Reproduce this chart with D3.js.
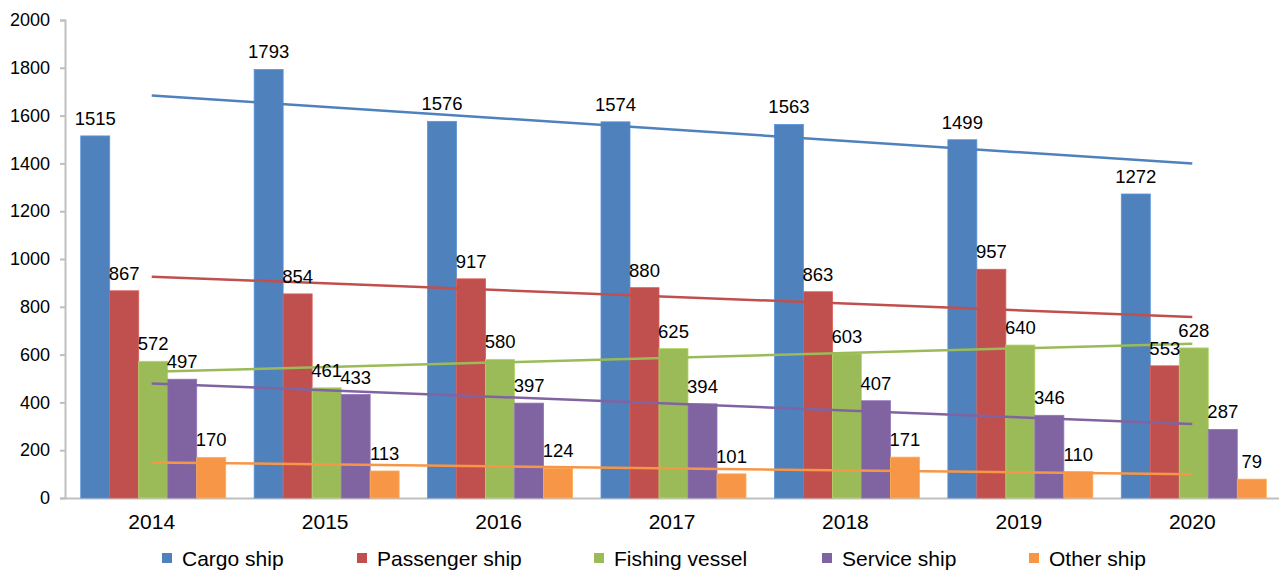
<!DOCTYPE html>
<html>
<head>
<meta charset="utf-8">
<script src="https://cdn.jsdelivr.net/npm/d3@7"></script>
<style>
  body { margin: 0; background: #fff; }
  svg text { font-family: "Liberation Sans", Arial, sans-serif; fill: #000; }
</style>
</head>
<body>
<svg id="mainSVG" width="1279" height="572"></svg>
<script>
var years = ["2014", "2015", "2016", "2017", "2018", "2019", "2020"];
var seriesNames = ["Cargo ship", "Passenger ship", "Fishing vessel", "Service ship", "Other ship"];
var cargo = [1515, 1793, 1576, 1574, 1563, 1499, 1272];
var passenger = [867, 854, 917, 880, 863, 957, 553];
var fishing = [572, 461, 580, 625, 603, 640, 628];
var service = [497, 433, 397, 394, 407, 346, 287];
var other = [170, 113, 124, 101, 171, 110, 79];
var yTicks = [0, 200, 400, 600, 800, 1000, 1200, 1400, 1600, 1800, 2000];
var colors = ["#4f81bd", "#c0504d", "#9bbb59", "#8064a2", "#f79646"];

function drawChart() {
  var allSeries = [cargo, passenger, fishing, service, other];

  var svg = d3.select("#mainSVG");
  var plotLeft = 65, plotRight = 1279, plotTop = 20, plotBottom = 498;

  var x = d3.scaleBand().domain(years).range([plotLeft, plotRight]).padding(0);
  var groupW = 145;
  var xs = d3.scaleBand().domain(d3.range(5)).range([0, groupW]).padding(0);
  var y = d3.scaleLinear().domain([0, 2000]).range([plotBottom, plotTop]);

  // y axis
  var yAxis = d3.axisLeft(y).tickValues(yTicks).tickSize(5).tickPadding(10).tickFormat(d3.format("d"));
  var gy = svg.append("g").attr("transform", "translate(" + plotLeft + ",0)").call(yAxis);
  gy.select(".domain").attr("stroke", "#bfbfbf").attr("stroke-width", 2);
  gy.selectAll(".tick line").attr("stroke", "#bfbfbf").attr("stroke-width", 2);
  gy.selectAll(".tick text").style("font-size", "18px").attr("fill", "#000");

  // x axis
  var xAxis = d3.axisBottom(x).tickSize(0).tickPadding(16);
  var gx = svg.append("g").attr("transform", "translate(0," + plotBottom + ")").call(xAxis);
  gx.select(".domain").attr("stroke", "#bfbfbf").attr("stroke-width", 2);
  gx.selectAll(".tick text").style("font-size", "21px").attr("fill", "#000");

  function barX(s, i) {
    return x(years[i]) + x.bandwidth() / 2 - groupW / 2 + xs(s) + 1.5;
  }

  // bars
  allSeries.forEach(function(vals, s) {
    svg.append("g").selectAll("rect").data(vals).enter().append("rect")
      .attr("x", function(d, i) { return barX(s, i); })
      .attr("y", function(d) { return y(d); })
      .attr("width", xs.bandwidth())
      .attr("height", function(d) { return plotBottom - y(d); })
      .attr("fill", colors[s])
      .attr("stroke", d3.color(colors[s]).brighter(0.4))
      .attr("stroke-width", 0.8);
  });

  // trendlines (least squares fit of each series)
  allSeries.forEach(function(vals, s) {
    var n = vals.length;
    var mx = (n - 1) / 2;
    var my = d3.mean(vals);
    var num = 0, den = 0;
    for (var i = 0; i < n; i++) { num += (i - mx) * (vals[i] - my); den += (i - mx) * (i - mx); }
    var slope = num / den;
    var pts = [0, n - 1].map(function(i) { return [x(years[i]) + x.bandwidth() / 2, y(my + slope * (i - mx))]; });
    svg.append("path")
      .attr("d", d3.line()(pts))
      .attr("stroke", colors[s])
      .attr("stroke-width", 2.5)
      .attr("fill", "none");
  });

  // value labels
  allSeries.forEach(function(vals, s) {
    svg.append("g").selectAll("text").data(vals).enter().append("text")
      .attr("x", function(d, i) { return barX(s, i) + xs.bandwidth() / 2; })
      .attr("y", function(d) { return y(d) - 11; })
      .attr("text-anchor", "middle")
      .style("font-size", "18.5px")
      .text(function(d) { return d; });
  });

  // legend
  var legendX = [162, 357, 594, 822, 1029];
  var legend = svg.append("g");
  seriesNames.forEach(function(name, i) {
    legend.append("rect").attr("x", legendX[i]).attr("y", 553).attr("width", 10).attr("height", 10).attr("fill", colors[i]);
    legend.append("text").attr("x", legendX[i] + 20).attr("y", 566).style("font-size", "21px").text(name);
  });
}

drawChart();
</script>
</body>
</html>
